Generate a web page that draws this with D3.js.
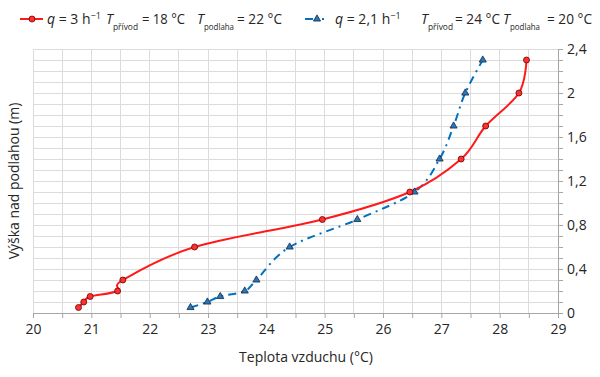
<!DOCTYPE html>
<html><head><meta charset="utf-8">
<script src="https://cdn.jsdelivr.net/npm/d3@7"></script>
<style>body{margin:0;background:#fff}svg{display:block}text{font-family:"Open Sans",sans-serif;fill:#262626}</style>
</head><body>
<svg id="c" width="600" height="377"></svg>
<script>
const redX = [20.78, 20.87, 20.98, 21.45, 21.54, 22.77, 24.96, 26.46, 27.34, 27.76, 28.33, 28.46];
const redY = [0.05, 0.10, 0.15, 0.20, 0.30, 0.60, 0.85, 1.10, 1.40, 1.70, 2.00, 2.30];
const blueX = [22.70, 22.99, 23.21, 23.63, 23.83, 24.40, 25.56, 26.54, 26.97, 27.21, 27.41, 27.71];
const blueY = [0.05, 0.10, 0.15, 0.20, 0.30, 0.60, 0.85, 1.10, 1.40, 1.70, 2.00, 2.30];
const xTicks = [20, 21, 22, 23, 24, 25, 26, 27, 28, 29];
const yTicks = [0, 0.4, 0.8, 1.2, 1.6, 2.0, 2.4];
const yTickLabels = ["0", "0,4", "0,8", "1,2", "1,6", "2", "2,4"];

const svg = d3.select("#c");
const L = 33, R = 558, T = 49, B = 313;
const x = d3.scaleLinear().domain([20, 29]).range([L, R]);
const y = d3.scaleLinear().domain([0, 2.4]).range([B, T]);

// grid
const g = svg.append("g");
g.selectAll(".vg").data(d3.range(20, 29.01, 0.5)).join("line")
  .attr("x1", d => x(d)).attr("x2", d => x(d)).attr("y1", T).attr("y2", B)
  .attr("stroke", "#dcdcdc").attr("stroke-width", 1).attr("shape-rendering", "crispEdges");
g.selectAll(".hg").data(d3.range(0, 24.01, 1).map(d => d / 10)).join("line")
  .attr("x1", L).attr("x2", R).attr("y1", d => y(d)).attr("y2", d => y(d))
  .attr("stroke", "#dcdcdc").attr("stroke-width", 1).attr("shape-rendering", "crispEdges");

// axes
const xa = svg.append("g").attr("transform", `translate(0,${B})`)
  .call(d3.axisBottom(x).tickValues(d3.range(20, 29.01, 0.5)).tickSize(5).tickFormat(""));
xa.select(".domain").attr("stroke", "#a6a6a6");
xa.selectAll(".tick line").attr("stroke", "#a6a6a6");
const xl = svg.append("g").attr("transform", `translate(0,${B})`)
  .call(d3.axisBottom(x).tickValues(xTicks).tickSize(0).tickPadding(11).tickFormat(d => d));
xl.select(".domain").remove();
xl.selectAll("text").style("font-size", "14px").style("font-family", '"Open Sans",sans-serif').attr("fill", "#262626");

const ya = svg.append("g").attr("transform", `translate(${R},0)`)
  .call(d3.axisRight(y).tickValues(d3.range(0, 24.01, 1).map(d => d / 10)).tickSize(5).tickFormat(""));
ya.select(".domain").attr("stroke", "#a6a6a6");
ya.selectAll(".tick line").attr("stroke", "#a6a6a6");
const yl = svg.append("g").attr("transform", `translate(${R},0)`)
  .call(d3.axisRight(y).tickValues(yTicks).tickSize(0).tickPadding(9).tickFormat((d, i) => yTickLabels[i]));
yl.select(".domain").remove();
yl.selectAll("text").style("font-size", "14px").style("font-family", '"Open Sans",sans-serif').attr("fill", "#262626");

// axis titles
svg.append("text").attr("x", 306).attr("y", 362).attr("text-anchor", "middle")
  .style("font-size", "14px").text("Teplota vzduchu (°C)");
svg.append("text").attr("transform", "translate(19,181) rotate(-90)").attr("text-anchor", "middle")
  .style("font-size", "14px").text("Výška nad podlahou (m)");

// series
const red = redX.map((v, i) => [v, redY[i]]);
const blue = blueX.map((v, i) => [v, blueY[i]]);
const lineR = d3.line().x(d => x(d[0])).y(d => y(d[1])).curve(d3.curveCatmullRom.alpha(0));
const lineB = d3.line().x(d => x(d[0])).y(d => y(d[1])).curve(d3.curveCatmullRom.alpha(0));

svg.append("path").attr("d", lineB(blue)).attr("fill", "none").attr("stroke", "#0070c0")
  .attr("stroke-width", 2).attr("stroke-dasharray", "8,5,2,5");
svg.append("path").attr("d", lineR(red)).attr("fill", "none").attr("stroke", "#ff1a1a")
  .attr("stroke-width", 2);

const tri = d3.symbol().type(d3.symbolTriangle).size(22);
svg.selectAll(".bm").data(blue).join("path")
  .attr("d", tri).attr("transform", d => `translate(${x(d[0])},${y(d[1])})`)
  .attr("fill", "#2e75b6").attr("stroke", "#0b2a4a").attr("stroke-width", 0.8);
svg.selectAll(".rm").data(red).join("circle")
  .attr("cx", d => x(d[0])).attr("cy", d => y(d[1])).attr("r", 3)
  .attr("fill", "#ff3030").attr("stroke", "#6b0000").attr("stroke-width", 0.8);

// legend
const lg = svg.append("g").style("font-size", "14px");
lg.append("line").attr("x1", 20).attr("x2", 43).attr("y1", 19).attr("y2", 19).attr("stroke", "#ff1a1a").attr("stroke-width", 2);
lg.append("circle").attr("cx", 32).attr("cy", 19).attr("r", 3).attr("fill", "#ff3030").attr("stroke", "#6b0000").attr("stroke-width", 0.8);
function qpart(x0, qTxt, w) {
  const t = lg.append("text").attr("x", x0).attr("y", 24);
  t.append("tspan").style("font-style", "italic").text("q");
  t.append("tspan").text(" = " + qTxt + " h");
  t.append("tspan").attr("dy", -5).style("font-size", "9px").text("−1");
}
function tpart(x0, sub, subW, xv, val, valW) {
  lg.append("text").attr("x", x0).attr("y", 24).style("font-style", "italic").text("T");
  lg.append("text").attr("x", x0 + 7).attr("y", 30).style("font-size", "9px")
    .attr("textLength", subW).attr("lengthAdjust", "spacingAndGlyphs").text(sub);
  lg.append("text").attr("x", xv).attr("y", 24)
    .attr("textLength", valW).attr("lengthAdjust", "spacingAndGlyphs").text("= " + val + " °C");
}
qpart(47, "3");
tpart(106, "přívod", 25, 142, "18", 43);
tpart(197, "podlaha", 30, 237, "22", 45);

lg.append("line").attr("x1", 305).attr("x2", 326).attr("y1", 19).attr("y2", 19).attr("stroke", "#0070c0")
  .attr("stroke-width", 2).attr("stroke-dasharray", "8,9,2,20");
lg.append("path").attr("d", tri).attr("transform", "translate(317,19)").attr("fill", "#2e75b6").attr("stroke", "#0b2a4a").attr("stroke-width", 0.8);
qpart(335, "2,1");
tpart(421, "přívod", 25, 455, "24", 45);
tpart(503, "podlaha", 30, 547, "20", 45);
</script>
</body></html>
